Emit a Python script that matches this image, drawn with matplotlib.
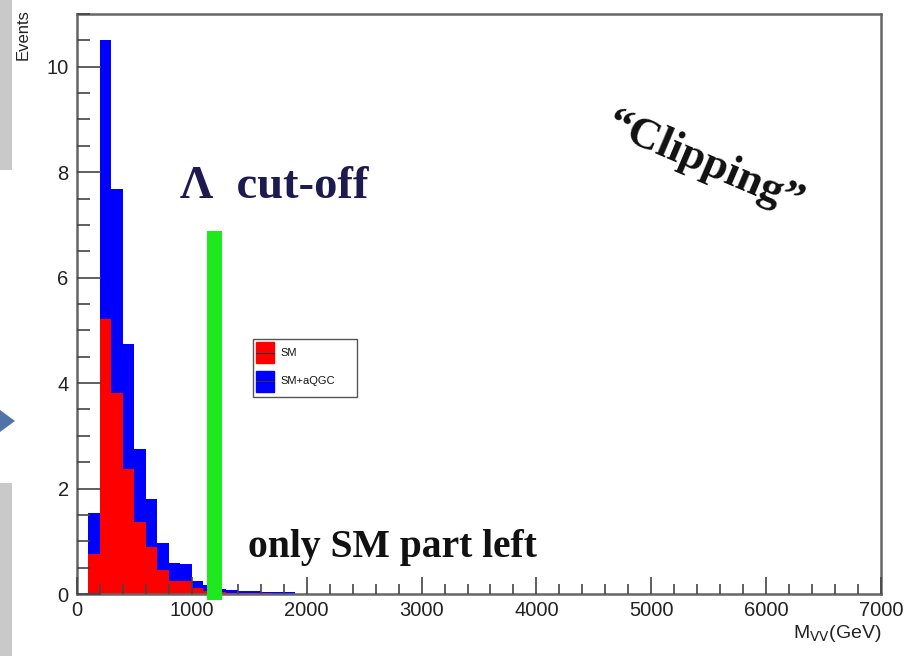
import numpy as np
import matplotlib
matplotlib.use('Agg')
import matplotlib.pyplot as plt
from matplotlib.patches import Rectangle, Polygon
from matplotlib.ticker import MultipleLocator

# histogram data, 100 GeV bins starting at 100 GeV
edges = np.arange(100, 1901, 100)
sm_aqgc = [1.53, 10.5, 7.68, 4.75, 2.75, 1.80, 0.96, 0.59, 0.56, 0.25,
           0.17, 0.10, 0.07, 0.05, 0.05, 0.04, 0.04, 0.03]
sm = [0.75, 5.21, 3.82, 2.37, 1.36, 0.89, 0.46, 0.25, 0.24, 0.11,
      0.06, 0.04, 0.02, 0.015, 0.01, 0.01, 0.005, 0.0]
labels = ['SM', 'SM+aQGC']

# cut-off band (GeV, events)
cut_lo, cut_hi, cut_top = 1130, 1262, 6.88

plt.rcParams['font.family'] = ['Liberation Sans', 'DejaVu Sans']

fig = plt.figure(figsize=(9.09, 6.56), dpi=100)

# bits of the slide background on the left edge
fig.patches.append(Rectangle((0, 1-170/656), 12/909, 170/656, transform=fig.transFigure,
                             facecolor='#c9c9c9', edgecolor='none', figure=fig))
fig.patches.append(Rectangle((0, 0), 12/909, 1-483/656, transform=fig.transFigure,
                             facecolor='#c9c9c9', edgecolor='none', figure=fig))
fig.patches.append(Polygon([(0, 1-410/656), (15/909, 1-421/656), (0, 1-432/656)],
                           transform=fig.transFigure, facecolor='#4f74a8',
                           edgecolor='none', figure=fig))

ax = fig.add_axes([77/909, 1-594/656, (881-77)/909, (594-14)/656])

ax.stairs(sm_aqgc, edges, fill=True, color='#0000ff')
ax.stairs(sm, edges, fill=True, color='#ff0000')

ax.set_xlim(0, 7000)
ax.set_ylim(0, 11.0)

ax.xaxis.set_major_locator(MultipleLocator(1000))
ax.xaxis.set_minor_locator(MultipleLocator(200))
ax.yaxis.set_major_locator(MultipleLocator(2))
ax.yaxis.set_minor_locator(MultipleLocator(0.5))
ax.tick_params(axis='x', which='major', direction='in', length=12.5, width=1.2,
               color='#444444', labelsize=14.5, labelcolor='#222222', pad=5)
ax.tick_params(axis='x', which='minor', direction='in', length=7, width=1.2, color='#444444')
ax.tick_params(axis='y', which='major', direction='in', length=17, width=1.2,
               color='#444444', labelsize=14.5, labelcolor='#222222', pad=6)
ax.tick_params(axis='y', which='minor', direction='in', length=9, width=1.2, color='#444444')
for s in ax.spines.values():
    s.set_color('#666666')
    s.set_linewidth(1.8)
ax.set_axisbelow(False)

ax.text(-0.067, 1.008, 'Events', transform=ax.transAxes, rotation=90,
        ha='center', va='top', fontsize=12, color='#222222')
ax.text(1.0, -0.05, r'M$_{\mathrm{VV}}$(GeV)', transform=ax.transAxes,
        ha='right', va='top', fontsize=14, color='#222222')

# legend drawn by hand, ROOT style
ax.add_patch(Rectangle((0.219, 0.340), 0.129, 0.100, transform=ax.transAxes,
                       facecolor='white', edgecolor='#555555', lw=1.0, zorder=5))
for (y0, col, lab) in [(0.398, '#ff0000', labels[0]), (0.349, '#0000ff', labels[1])]:
    ax.add_patch(Rectangle((0.2226, y0), 0.0224, 0.036, transform=ax.transAxes,
                           facecolor=col, edgecolor=col, zorder=6))
    ax.plot([0.2226, 0.245], [y0 + 0.018, y0 + 0.018], transform=ax.transAxes,
            color='#333333', lw=0.8, zorder=7)
    ax.text(0.253, y0 + 0.018, lab, transform=ax.transAxes, ha='left', va='center',
            fontsize=8, color='#111111', zorder=7)

# green cut-off band
ax.add_patch(Rectangle((cut_lo, -0.12), cut_hi - cut_lo, cut_top + 0.12,
                       facecolor='#1fe81f', edgecolor='none', clip_on=False, zorder=8))

serif = ['Liberation Serif', 'DejaVu Serif']
ax.text(0.128, 0.683, '\u039b  cut-off', transform=ax.transAxes, family=serif,
        fontsize=33.5, fontweight='bold', color='#1d1a50', va='baseline', ha='left')
ax.text(0.213, 0.064, 'only SM part left', transform=ax.transAxes, family=serif,
        fontsize=28.5, fontweight='bold', color='#111111', va='baseline', ha='left', zorder=9)
ax.text(0.781, 0.742, '\u201cClipping\u201d', transform=ax.transAxes, family=serif,
        fontsize=32, fontweight='bold', color='#111111', rotation=-23,
        rotation_mode='anchor', ha='center', va='center')

fig.savefig('out.png', dpi=100)
